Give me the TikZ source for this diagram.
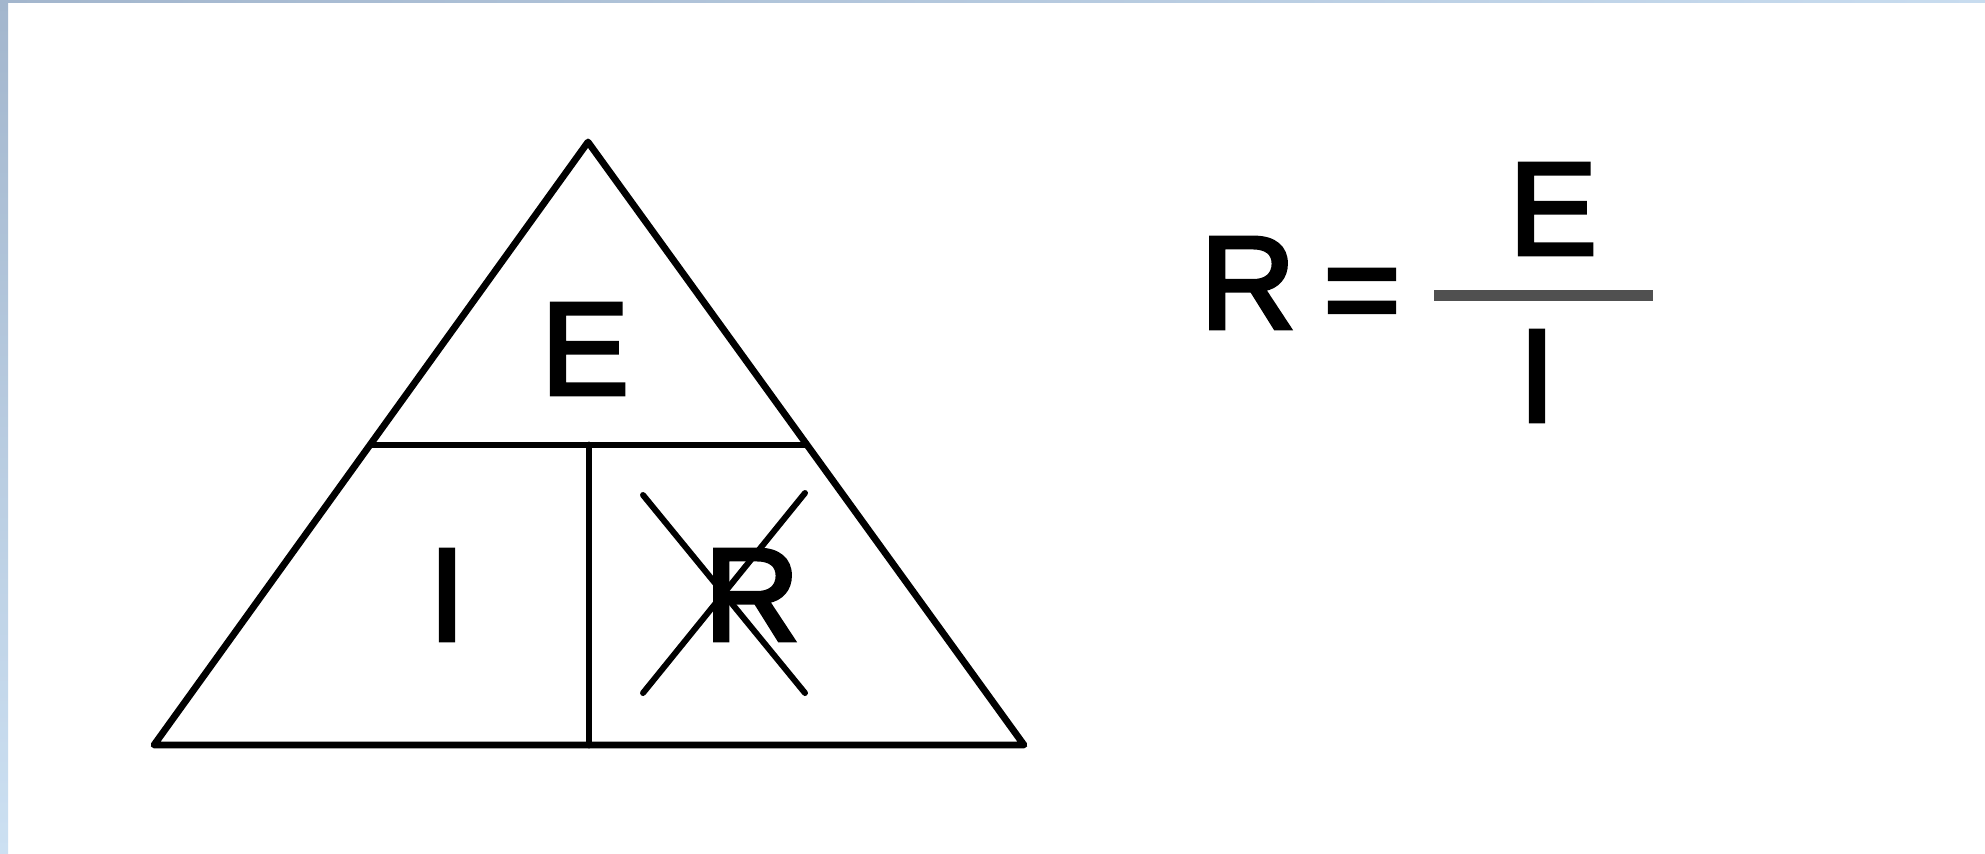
\documentclass[tikz,border=0pt]{standalone}
\usepackage{fontspec}
\setmainfont{Liberation Sans}
\newfontfamily\letterfont[FakeBold=3]{Liberation Sans}
\begin{document}
\begin{tikzpicture}[x=0.5pt,y=-0.5pt,
  edge/.style={line width=3.4pt,line cap=round,line join=round,black},
  crossline/.style={line width=3pt,line cap=round,black},
  letter/.style={inner sep=0pt,text depth=0pt,font=\letterfont\fontsize{66}{70}\selectfont}]
\useasboundingbox (0,0) rectangle (1985,853);
\fill[white] (0,0) rectangle (1985,853);
\shade[top color={rgb,255:red,163;green,182;blue,205},bottom color={rgb,255:red,204;green,224;blue,242}] (0,0) rectangle (8,853);
\shade[left color={rgb,255:red,163;green,182;blue,205},right color={rgb,255:red,200;green,220;blue,239}] (0,0) rectangle (1985,2.5);
% triangle
\coordinate (apex) at (588,142);
\coordinate (bl) at (154,745);
\coordinate (br) at (1024,745);
\coordinate (ml) at (372,445);
\coordinate (mr) at (805,445);
\coordinate (mt) at (589,445);
\coordinate (mb) at (589,745);
\draw[edge] (bl) -- (apex) -- (br) -- cycle;
\draw[edge] (ml) -- (mr);
\draw[edge] (mt) -- (mb);
% letters in triangle
\node[letter] (tE) at (585,349) {E};
\node[letter] (tI) at (447,595) {I};
\node[letter] (tR) at (752,595) {R};
% cross
\coordinate (x1) at (643,495);
\coordinate (x2) at (805,693);
\coordinate (x3) at (805,493);
\coordinate (x4) at (643,693);
\draw[crossline] (x1) -- (x2);
\draw[crossline] (x3) -- (x4);
% formula
\node[letter] (fR) at (1248,283) {R};
\node[letter] (feq) at (1362,302) {=};
\node[letter] (fE) at (1553,209) {E};
\node[letter] (fI) at (1537,376) {I};
\coordinate (bar1) at (1434,295);
\coordinate (bar2) at (1653,295);
\draw[line width=5.5pt,color={rgb,255:red,80;green,80;blue,80}] (bar1) -- (bar2);
\end{tikzpicture}
\end{document}
